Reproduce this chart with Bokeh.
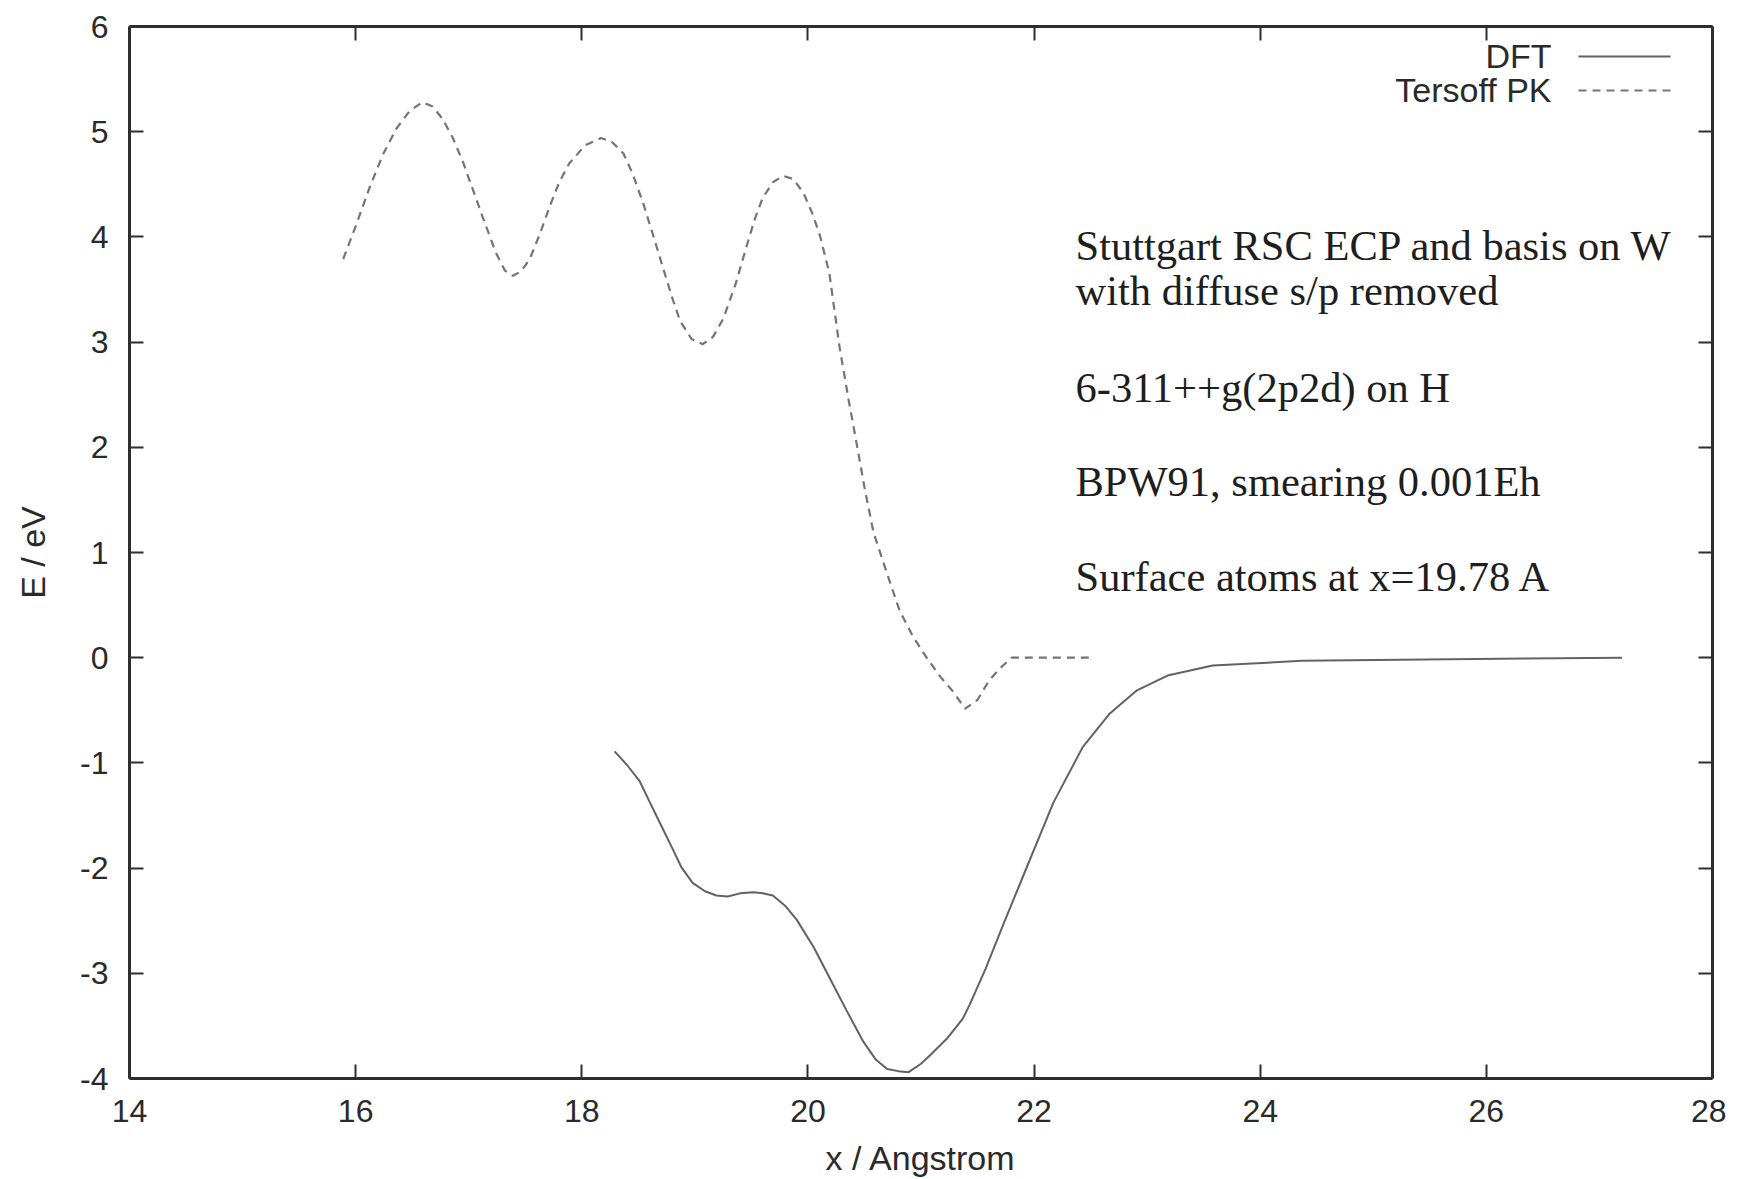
from bokeh.plotting import figure
from bokeh.models import Range1d, LinearAxis, SingleIntervalTicker, CustomJSTickFormatter, Label
from bokeh.embed import file_html
from bokeh.resources import INLINE

# ---------------- data ----------------
dft_x = [18.29, 18.40, 18.51, 18.60, 18.70, 18.80, 18.88, 18.98, 19.09, 19.19,
         19.29, 19.40, 19.52, 19.60, 19.69, 19.80, 19.90, 20.05, 20.19, 20.34,
         20.49, 20.60, 20.70, 20.80, 20.89, 21.00, 21.09, 21.23, 21.37, 21.43,
         21.57, 21.73, 21.94, 22.17, 22.43, 22.67, 22.91, 23.18, 23.58, 24.37,
         25.67, 27.20]
dft_y = [-0.89, -1.02, -1.17, -1.37, -1.59, -1.81, -1.99, -2.14, -2.22, -2.26,
         -2.27, -2.24, -2.23, -2.24, -2.26, -2.36, -2.49, -2.75, -3.04, -3.35,
         -3.65, -3.82, -3.91, -3.93, -3.94, -3.86, -3.77, -3.62, -3.43, -3.30,
         -2.96, -2.53, -1.98, -1.38, -0.85, -0.53, -0.31, -0.17, -0.075, -0.03,
         -0.015, 0.0]

tersoff_x = [15.89, 16.00, 16.12, 16.24, 16.36, 16.48, 16.59, 16.68, 16.77, 16.86,
             16.95, 17.04, 17.13, 17.24, 17.32, 17.39, 17.46, 17.54, 17.63, 17.72,
             17.80, 17.89, 18.03, 18.17, 18.27, 18.37, 18.45, 18.54, 18.63, 18.72,
             18.80, 18.87, 18.97, 19.07, 19.16, 19.25, 19.36, 19.46, 19.53, 19.60,
             19.69, 19.78, 19.87, 19.96, 20.04, 20.11, 20.19, 20.28, 20.36, 20.43,
             20.50, 20.58, 20.70, 20.81, 20.93, 21.05, 21.17, 21.29, 21.39, 21.50,
             21.60, 21.70, 21.80, 22.00, 22.20, 22.50]
tersoff_y = [3.79, 4.10, 4.46, 4.78, 5.03, 5.20, 5.28, 5.24, 5.12, 4.94,
             4.71, 4.44, 4.17, 3.85, 3.68, 3.63, 3.67, 3.79, 4.03, 4.30,
             4.52, 4.70, 4.87, 4.94, 4.90, 4.79, 4.60, 4.33, 4.02, 3.70,
             3.42, 3.20, 3.03, 2.98, 3.05, 3.22, 3.55, 3.92, 4.17, 4.37,
             4.52, 4.58, 4.55, 4.42, 4.22, 4.00, 3.65, 2.95, 2.45, 2.04,
             1.62, 1.19, 0.80, 0.45, 0.20, 0.00, -0.18, -0.33, -0.485, -0.40,
             -0.22, -0.10, 0.00, 0.00, 0.00, 0.00]

series_names = ["DFT", "Tersoff PK"]
x_label = "x / Angstrom"
y_label = "E / eV"
x_min, x_max, x_step = 14, 28, 2
y_min, y_max, y_step = -4, 6, 1
notes = ["Stuttgart RSC ECP and basis on W",
         "with diffuse s/p removed",
         "6-311++g(2p2d) on H",
         "BPW91, smearing 0.001Eh",
         "Surface atoms at x=19.78 A"]

# ---------------- layout ----------------
W, H = 1726, 1179
BL, BR, BT, BB = 129, 14, 26, 101
FW, FH = W - BL - BR, H - BT - BB

def fx(px):  # frame-relative pixel (from left) -> data x
    return x_min + px / FW * (x_max - x_min)

def fy(py):  # frame-relative pixel (from top) -> data y
    return y_max - py / FH * (y_max - y_min)

AX = "#2e2e2e"
LINE = "#626262"
DASH = "#747474"
TXT = "#2a2a2a"
SANS = "Liberation Sans"
SERIF = "Liberation Serif"

p = figure(width=W, height=H, output_backend="svg", toolbar_location=None,
           x_range=Range1d(x_min, x_max), y_range=Range1d(y_min, y_max),
           min_border_left=BL, min_border_right=BR, min_border_top=BT,
           min_border_bottom=BB, background_fill_color="white",
           border_fill_color="white")
p.outline_line_color = None
p.grid.visible = False

plain = "return tick.toFixed(0)"

def style_axis(ax, show_labels):
    ax.axis_line_color = AX
    ax.axis_line_width = 3
    ax.major_tick_line_color = AX
    ax.major_tick_line_width = 2
    ax.major_tick_in = 14
    ax.major_tick_out = 0
    ax.minor_tick_line_color = None
    ax.major_label_text_font = SANS
    ax.major_label_text_font_size = "32px"
    ax.major_label_text_color = TXT
    ax.axis_label_text_font = SANS
    ax.axis_label_text_font_size = "34px"
    ax.axis_label_text_font_style = "normal"
    ax.axis_label_text_color = TXT
    if show_labels:
        ax.formatter = CustomJSTickFormatter(code=plain)
    else:
        ax.formatter = CustomJSTickFormatter(code="return ''")
        ax.major_label_standoff = 0

xb = p.xaxis[0]
xb.ticker = SingleIntervalTicker(interval=x_step)
style_axis(xb, True)
xb.major_label_standoff = 17
xb.axis_label = x_label
xb.axis_label_standoff = 14

yl = p.yaxis[0]
yl.ticker = SingleIntervalTicker(interval=y_step)
style_axis(yl, True)
yl.major_label_standoff = 17
yl.major_label_orientation = "horizontal"
yl.axis_label = y_label
yl.axis_label_standoff = 25

xt = LinearAxis(ticker=SingleIntervalTicker(interval=x_step))
style_axis(xt, False)
p.add_layout(xt, "above")
yr = LinearAxis(ticker=SingleIntervalTicker(interval=y_step))
style_axis(yr, False)
p.add_layout(yr, "right")

# ---------------- curves ----------------
p.line(dft_x, dft_y, line_color=LINE, line_width=2)
p.line(tersoff_x, tersoff_y, line_color=DASH, line_width=2.2, line_dash="8 6")

# ---------------- legend (gnuplot style: text then sample) ----------------
leg_rows = [30, 64]
leg_styles = [("solid", LINE), ("8 6", DASH)]
for name, r, (dash, col) in zip(series_names, leg_rows, leg_styles):
    p.line([fx(1449), fx(1541)], [fy(r), fy(r)], line_color=col, line_width=2,
           line_dash=dash)
    p.add_layout(Label(x=fx(1422), y=fy(r - 1), text=name, text_align="right",
                       text_baseline="middle", text_font=SANS,
                       text_font_size="34px", text_color=TXT))

# ---------------- annotation text ----------------
note_centers = [219, 264, 361, 455, 550]
for t, c in zip(notes, note_centers):
    p.add_layout(Label(x=fx(946), y=fy(c), text=t, text_align="left",
                       text_baseline="middle", text_font=SERIF,
                       text_font_size="42.5px", text_color="#1e1e1e"))

open("out.html", "w").write(file_html(p, INLINE))
